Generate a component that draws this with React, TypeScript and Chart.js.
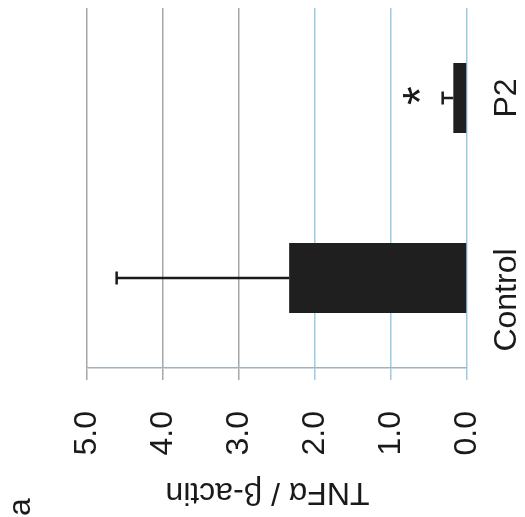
import React, { useEffect, useRef } from 'react';
import { Chart, registerables } from 'chart.js';

Chart.register(...registerables);

// ---- data ----
const categories = ['Control', 'P2'];
const means = [2.34, 0.18];
const errors = [2.27, 0.14];
const significance = ['', '*'];
const valueTicks = [0, 1, 2, 3, 4, 5];
const axisTitle = 'TNFα / β-actin';
const panelLabel = 'a';

// ---- styles ----
const FONT = '"Liberation Sans", Arial, Helvetica, sans-serif';
const INK = '#1a1a1a';
const BAR = '#1f1f1f';
const GRID_GRAY = '#a6a6a6';
const GRID_BLUE = '#9ccbe6';
const labelNudge = [22, 0];

const annotate = {
  id: 'annotate',
  afterDatasetsDraw(chart: any) {
    const { ctx } = chart;
    const x = chart.scales.x;
    const y = chart.scales.y;
    ctx.save();
    ctx.strokeStyle = INK;
    ctx.lineWidth = 2.5;
    categories.forEach((_c, i) => {
      const cy = y.getPixelForValue(i);
      const x0 = x.getPixelForValue(means[i]);
      const x1 = x.getPixelForValue(means[i] + errors[i]);
      ctx.beginPath();
      ctx.moveTo(x0, cy);
      ctx.lineTo(x1, cy);
      ctx.moveTo(x1, cy - 6.5);
      ctx.lineTo(x1, cy + 6.5);
      ctx.stroke();
      if (significance[i]) {
        ctx.save();
        ctx.fillStyle = INK;
        ctx.font = `48px ${FONT}`;
        ctx.textAlign = 'left';
        ctx.textBaseline = 'alphabetic';
        ctx.translate(x1 - 31, cy - 2);
        ctx.rotate(-Math.PI / 2);
        const m = ctx.measureText(significance[i]);
        const L = m.actualBoundingBoxLeft;
        const R = m.actualBoundingBoxRight;
        const A = m.actualBoundingBoxAscent;
        const D = m.actualBoundingBoxDescent;
        ctx.fillText(significance[i], (L - R) / 2, (A - D) / 2);
        ctx.restore();
      }
    });
    ctx.restore();
  },
  afterDraw(chart: any) {
    const { ctx, chartArea } = chart;
    const y = chart.scales.y;
    ctx.save();
    ctx.fillStyle = INK;
    ctx.font = `32px ${FONT}`;
    ctx.textAlign = 'center';
    ctx.textBaseline = 'alphabetic';
    categories.forEach((c, i) => {
      const cy = y.getPixelForValue(i) + labelNudge[i];
      ctx.save();
      ctx.translate(chartArea.right + 49, cy);
      ctx.rotate(-Math.PI / 2);
      ctx.fillText(c, 0, 0);
      ctx.restore();
    });
    // axis title (upside down)
    ctx.save();
    ctx.translate((chartArea.left + chartArea.right) / 2 - 9.5, chartArea.bottom + 115);
    ctx.rotate(Math.PI);
    ctx.fillText(axisTitle, 0, 0);
    ctx.restore();
    // panel label
    ctx.save();
    ctx.translate(chartArea.left - 57, chartArea.bottom + 139);
    ctx.rotate(-Math.PI / 2);
    ctx.fillText(panelLabel, 0, 0);
    ctx.restore();
    ctx.restore();
  },
};

export default function App() {
  const ref = useRef<HTMLCanvasElement>(null);
  useEffect(() => {
    const chart = new Chart(ref.current as HTMLCanvasElement, {
      type: 'bar',
      data: {
        labels: categories,
        datasets: [
          {
            data: means,
            backgroundColor: BAR,
            borderWidth: 0,
            barPercentage: 0.39,
            categoryPercentage: 1,
          },
        ],
      },
      options: {
        indexAxis: 'y',
        animation: false,
        responsive: false,
        maintainAspectRatio: false,
        layout: { padding: { left: 87, top: 8, right: 0, bottom: 0 } },
        plugins: {
          legend: { display: false },
          tooltip: { enabled: false },
          title: { display: false },
        },
        scales: {
          x: {
            type: 'linear',
            position: 'bottom',
            reverse: true,
            min: 0,
            max: 5,
            afterFit: (s: any) => {
              s.height = 149;
            },
            afterBuildTicks: (s: any) => {
              s.ticks = valueTicks.map((v) => ({ value: v }));
            },
            ticks: {
              callback: (v: any) => Number(v).toFixed(1),
              minRotation: 90,
              maxRotation: 90,
              padding: 31,
              color: INK,
              font: { family: FONT, size: 32 },
            },
            grid: {
              color: (c: any) => (c.tick && c.tick.value >= 3 ? GRID_GRAY : GRID_BLUE),
              lineWidth: 1.5,
              tickLength: 12,
              drawTicks: true,
            },
            border: { display: true, color: '#a3b2bc', width: 1.5 },
          },
          y: {
            type: 'category',
            position: 'right',
            reverse: true,
            afterFit: (s: any) => {
              s.width = 58;
            },
            ticks: { display: false },
            grid: { display: false },
            border: { display: false },
          },
        },
      },
      plugins: [annotate],
    } as any);
    return () => chart.destroy();
  }, []);
  return (
    <div style={{ position: 'absolute', left: 0, top: 0, width: 525, height: 517, background: '#fff' }}>
      <canvas ref={ref} width={525} height={517} style={{ display: 'block', width: 525, height: 517 }} />
    </div>
  );
}
